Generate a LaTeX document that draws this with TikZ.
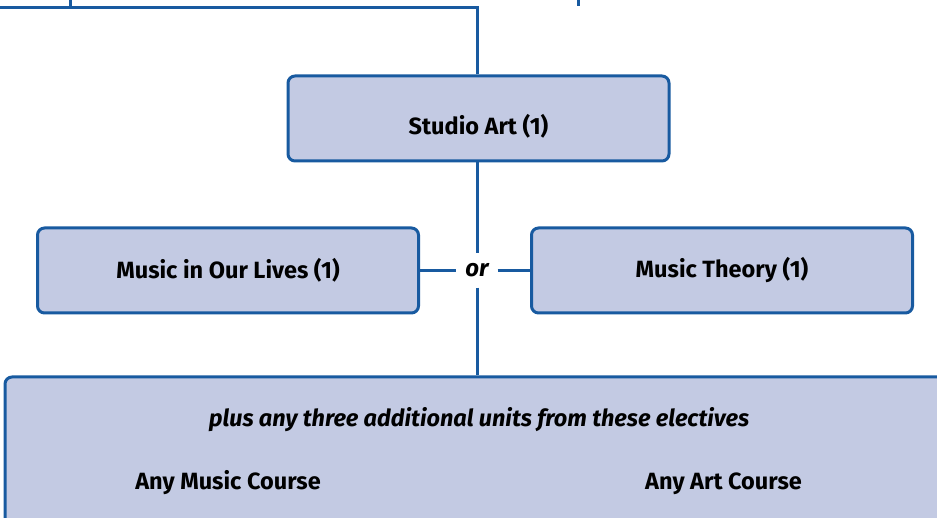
\documentclass[tikz,border=0pt]{standalone}
\usepackage{fontspec}
\setmainfont{Fira Sans}
\definecolor{boxfill}{RGB}{195,202,227}
\definecolor{boxline}{RGB}{24,90,160}
\tikzset{
	course/.style={draw=boxline,fill=boxfill,line width=3pt,rounded corners=7pt,
		minimum width=381pt,minimum height=85pt,inner sep=0pt,
		font=\fontsize{23.5}{26}\selectfont\bfseries},
	label/.style={anchor=base,inner sep=0pt,font=\fontsize{23.5}{26}\selectfont\bfseries},
	link/.style={draw=boxline,line width=3pt},
}
\begin{document}
\begin{tikzpicture}[x=1pt,y=1pt,line cap=butt,line join=miter]
	\useasboundingbox (0,0) rectangle (937,-518);
	\clip (0,0) rectangle (937,-518);
	\node[course,text height=32pt,text depth=0pt] (studio) at (478.5,-118.5) {Studio Art (1)};
	\node[course] (lives) at (228,-270.5) {Music in Our Lives (1)};
	\node[course] (theory) at (722,-270.5) {Music Theory (1)};
	\node[course,minimum width=965pt,minimum height=183pt] (electives) at (487.5,-468.5) {};
	\node[minimum width=41pt,minimum height=34pt,inner sep=0pt,
		font=\fontsize{24}{26}\selectfont\bfseries\itshape] (or) at (477,-270.5) {or};
	\node[label,font=\fontsize{23.5}{26}\selectfont\bfseries\itshape] (plus) at (479,-426)
		{plus any three additional units from these electives};
	\node[label] (anymusic) at (228,-489) {Any Music Course};
	\node[label] (anyart) at (723.5,-489) {Any Art Course};
	
	\coordinate (topleft) at (0,-7.5);
	\coordinate (tickA) at (70,0);
	\coordinate (tickB) at (578,0);
	\draw[link] (studio.north -| or) |- (topleft);
	\draw[link] (tickA) -- (tickA |- topleft);
	\draw[link] (tickB) -- ++(0,-6);
	\draw[link] (studio.south -| or) -- (or.north);
	\draw[link] (or.south) -- (or.south |- electives.north);
	\draw[link] (lives.east) -- (or.west);
	\draw[link] (or.east) -- (theory.west);
\end{tikzpicture}
\end{document}
